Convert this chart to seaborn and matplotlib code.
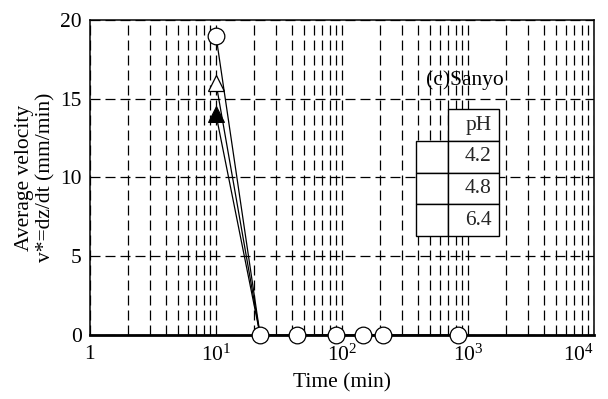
import matplotlib
matplotlib.use("Agg")
import matplotlib.pyplot as plt
import seaborn as sns
import pandas as pd

# ---- data ----
time_circle = [10, 22.4, 44, 90, 148, 210, 840]
v_circle = [19, 0, 0, 0, 0, 0, 0]
time_tri_open = [10, 22.4]
v_tri_open = [16, 0]
time_tri_fill = [10, 22.4]
v_tri_fill = [14, 0]
ph_labels = ["4.2", "4.8", "6.4"]
x_ticks = [1, 10, 100, 1000, 10000]
x_tick_labels = ["1", r"$\mathregular{10^{1}}$", r"$\mathregular{10^{2}}$",
                 r"$\mathregular{10^{3}}$", r"$\mathregular{10^{4}}$"]
y_ticks = [0, 5, 10, 15, 20]

sns.set_theme(style="white")
plt.rcParams["font.family"] = "Liberation Serif"
plt.rcParams["mathtext.fontset"] = "custom"
plt.rcParams["mathtext.rm"] = "Liberation Serif"
plt.rcParams["mathtext.it"] = "Liberation Serif:italic"

FS = 15.5

fig = plt.figure(figsize=(6.08, 3.99), dpi=100)
ax = fig.add_axes([0.148, 0.1604, 0.829, 0.7895])

df_c = pd.DataFrame({"t": time_circle, "v": v_circle})
df_o = pd.DataFrame({"t": time_tri_open, "v": v_tri_open})
df_f = pd.DataFrame({"t": time_tri_fill, "v": v_tri_fill})

sns.lineplot(data=df_f, x="t", y="v", ax=ax, color="black", lw=0.9, marker="^",
             markersize=11, markerfacecolor="black", markeredgecolor="black", zorder=4)
sns.lineplot(data=df_o, x="t", y="v", ax=ax, color="black", lw=0.9, marker="^",
             markersize=11, markerfacecolor="white", markeredgecolor="black",
             markeredgewidth=0.9, zorder=5)
sns.lineplot(data=df_c, x="t", y="v", ax=ax, color="black", lw=0.9, marker="o",
             markersize=12, markerfacecolor="white", markeredgecolor="black",
             markeredgewidth=0.9, zorder=6, clip_on=False)

ax.set_xscale("log")
ax.set_xlim(1, 10000)
ax.set_ylim(0, 20)
ax.set_xticks(x_ticks)
ax.set_xticklabels(x_tick_labels)
ax.set_yticks(y_ticks)
ax.set_yticklabels([str(v) for v in y_ticks])
ax.tick_params(axis="both", length=0, labelsize=FS, colors="black")
ax.tick_params(axis="x", pad=7)
ax.tick_params(axis="y", pad=6)
lbls = ax.get_xticklabels()
lbls[-1].set_horizontalalignment("right")

ax.grid(True, which="both", axis="x", color="black", linestyle=(0, (8, 4)), lw=0.9)
ax.grid(True, which="major", axis="y", color="black", linestyle=(0, (8, 4)), lw=0.9)
ax.set_axisbelow(True)
for s in ax.spines.values():
    s.set_color("black")
    s.set_linewidth(1.1)
ax.spines["bottom"].set_linewidth(2.0)

ax.set_xlabel("Time (min)", fontsize=FS, color="black", labelpad=5)
ax.set_ylabel("Average velocity\nv*=dz/dt (mm/min)",
              fontsize=FS, color="black", labelpad=3, linespacing=1.2)

ax.text(0.743, 0.81, "(c)Sanyo", transform=ax.transAxes, fontsize=FS,
        ha="center", va="center", color="black")

cell_text = [["", "pH"]] + [["", p] for p in ph_labels]
tbl = ax.table(cellText=cell_text, colWidths=[32 / 83.3, 51.3 / 83.3],
               cellLoc="right", bbox=[0.646, 0.314, 0.165, 0.402], zorder=10)
tbl.auto_set_font_size(False)
tbl.set_fontsize(FS)
for (r, c), cell in tbl.get_celld().items():
    cell.set_edgecolor("black")
    cell.set_linewidth(1)
    cell.set_facecolor("white")
    cell.PAD = 0.14
    if r == 0 and c == 0:
        cell.visible_edges = ""
        cell.set_facecolor("none")

fig.savefig("out.png", dpi=100)
